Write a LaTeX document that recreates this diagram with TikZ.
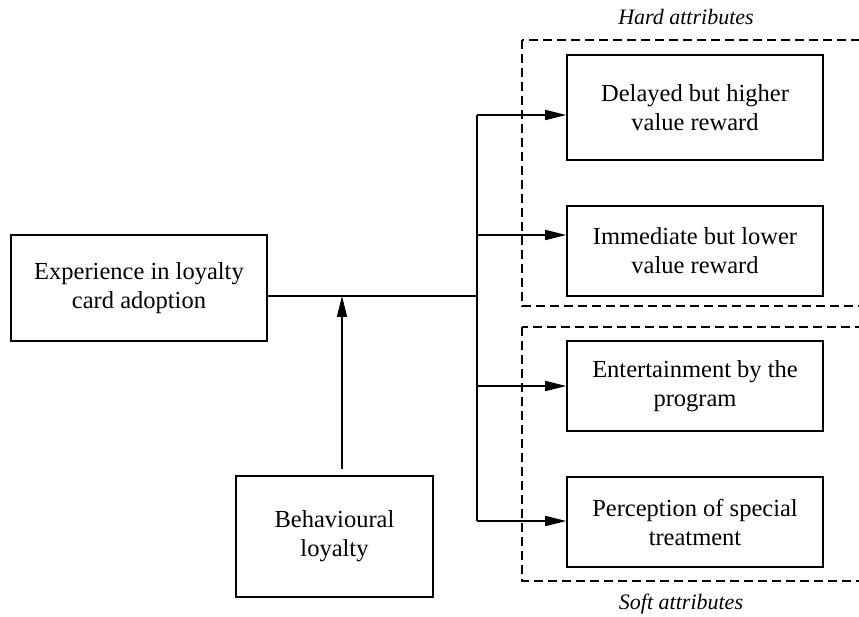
\documentclass[tikz,border=0pt]{standalone}
\usepackage{fontspec}
\setmainfont{Liberation Serif}
\usetikzlibrary{arrows.meta}
\tikzset{
  box/.style={draw, line width=1.6pt, inner sep=0pt, align=center,
    font=\fontsize{24.5}{29}\selectfont},
  conn/.style={line width=1.6pt},
  arr/.style={line width=1.6pt, -{Triangle[length=21pt,width=10pt]}},
  grp/.style={draw, line width=1.3pt, dash pattern=on 9pt off 5pt},
  lab/.style={font=\fontsize{22}{26}\selectfont\itshape, inner sep=0pt}
}
\begin{document}
\begin{tikzpicture}[x=1pt,y=-1pt]
\clip (0,0) rectangle (859,617);
\fill[white] (0,0) rectangle (859,617);
% groups
\draw[grp] (522,40) rectangle (880,306);
\draw[grp] (522,327) rectangle (880,581);
\node[lab] (hard) at (686,17) {Hard attributes};
\node[lab] (soft) at (681,604) {Soft attributes};
% boxes
\node[box, minimum width=256pt, minimum height=106pt] (exp) at (139,288) {Experience in loyalty\\card adoption};
\node[box, minimum width=197pt, minimum height=121pt] (beh) at (334.5,536.5) {Behavioural\\loyalty};
\node[box, minimum width=256pt, minimum height=105pt] (b1) at (695,107.5) {Delayed but higher\\value reward};
\node[box, minimum width=256pt, minimum height=90pt] (b2) at (695,251) {Immediate but lower\\value reward};
\node[box, minimum width=256pt, minimum height=90pt] (b3) at (695,386) {Entertainment by the\\program};
\node[box, minimum width=256pt, minimum height=90pt] (b4) at (695,522) {Perception of special\\treatment};
% trunk coordinates
\coordinate (j) at (477,296);
\coordinate (t1) at (477,115);
\coordinate (t2) at (477,235);
\coordinate (t3) at (477,386);
\coordinate (t4) at (477,521);
\coordinate (m) at (342,296);
\coordinate (ms) at (342,469);
% connectors
\draw[conn] (j -| exp.east) -- (j);
\draw[conn] (t1) -- (t4);
\draw[arr] (t1) -- (t1 -| b1.west);
\draw[arr] (t2) -- (t2 -| b2.west);
\draw[arr] (t3) -- (t3 -| b3.west);
\draw[arr] (t4) -- (t4 -| b4.west);
\draw[arr] (ms) -- (m);
\end{tikzpicture}
\end{document}
